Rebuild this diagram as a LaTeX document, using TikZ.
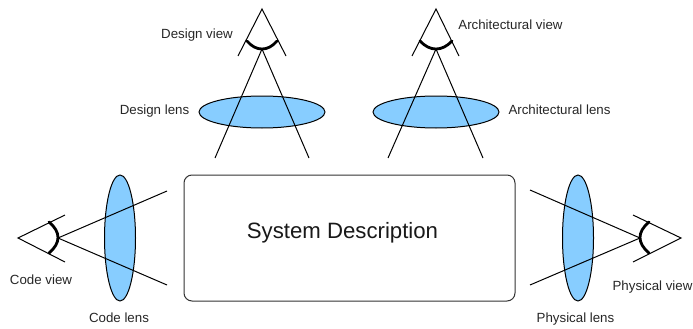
\documentclass[tikz,border=0pt]{standalone}
\usepackage{fontspec}
\setmainfont{Liberation Sans}
\usetikzlibrary{shapes.geometric}
\definecolor{lensblue}{RGB}{135,205,255}
\tikzset{
  lens/.style={ellipse,draw=black,fill=lensblue,line width=1pt,inner sep=0pt,outer sep=0pt},
  ray/.style={draw=black,line width=1pt},
  iris/.style={draw=black,line width=2.8pt,line cap=round},
  lbl/.style={inner sep=0pt,font=\fontsize{13.3}{15}\selectfont,text height=10pt,text depth=3pt,text=black!85},
  sysbox/.style={draw=black!80,line width=1pt,rounded corners=8pt,inner sep=0pt,outer sep=0pt,fill=white}
}
\begin{document}
\begin{tikzpicture}[x=1pt,y=-1pt]
\useasboundingbox (0,0) rectangle (693,329);
% system
\node[sysbox,minimum width=331pt,minimum height=126pt] (sys) at (349.5,238) {};
\node[inner sep=0pt,font=\fontsize{22.2}{26}\selectfont,text=black!90] (systxt) at (342.5,232.5) {System Description};
% lenses
\node[lens,minimum width=126pt,minimum height=32pt] (dl) at (262,112) {};
\node[lens,minimum width=126pt,minimum height=32pt] (al) at (436,112) {};
\node[lens,minimum width=31pt,minimum height=126pt] (cl) at (120,238) {};
\node[lens,minimum width=31pt,minimum height=126pt] (pl) at (578,238) {};
% design
\coordinate (da) at (262,9); \coordinate (db) at (238,56); \coordinate (dc) at (286,56);
\coordinate (dd) at (262,49); \coordinate (de) at (215,158); \coordinate (df) at (309,158);
\coordinate (dg) at (247,41); \coordinate (dh) at (277,41);
\draw[ray] (db) -- (da) -- (dc);
\draw[ray] (de) -- (dd) -- (df);
\draw[iris] (dg) .. controls (256,51.7) and (268,51.7) .. (dh);
% architectural
\coordinate (aa) at (436,9); \coordinate (ab) at (412,56); \coordinate (ac) at (459,56);
\coordinate (ad) at (436,49); \coordinate (ae) at (388,158); \coordinate (af) at (483,158);
\coordinate (ag) at (420,41); \coordinate (ah) at (452,41);
\draw[ray] (ab) -- (aa) -- (ac);
\draw[ray] (ae) -- (ad) -- (af);
\draw[iris] (ag) .. controls (430,51.7) and (442,51.7) .. (ah);
% code
\coordinate (ca) at (18,238); \coordinate (cb) at (65,215); \coordinate (cc) at (65,262);
\coordinate (cd) at (58,238); \coordinate (ce) at (167,191); \coordinate (cf) at (167,285);
\coordinate (cg) at (49,222); \coordinate (ch) at (49,253);
\draw[ray] (cb) -- (ca) -- (cc);
\draw[ray] (ce) -- (cd) -- (cf);
\draw[iris] (cg) .. controls (61,232) and (61,243) .. (ch);
% physical
\coordinate (pa) at (681,238); \coordinate (pb) at (633,215); \coordinate (pc) at (633,262);
\coordinate (pd) at (640,238); \coordinate (pe) at (530,190); \coordinate (pf) at (530,285);
\coordinate (pg) at (649,222); \coordinate (ph) at (649,253);
\draw[ray] (pb) -- (pa) -- (pc);
\draw[ray] (pe) -- (pd) -- (pf);
\draw[iris] (pg) .. controls (637,232) and (637,243) .. (ph);
% labels
\node[lbl] (t1) at (197,35) {Design view};
\node[lbl] (t2) at (154.5,111) {Design lens};
\node[lbl] (t3) at (510.5,26) {Architectural view};
\node[lbl] (t4) at (559.5,111) {Architectural lens};
\node[lbl] (t5) at (41,281) {Code view};
\node[lbl] (t6) at (119,318.5) {Code lens};
\node[lbl] (t7) at (575.5,318.5) {Physical lens};
\node[lbl] (t8) at (652.5,287) {Physical view};
\end{tikzpicture}
\end{document}
